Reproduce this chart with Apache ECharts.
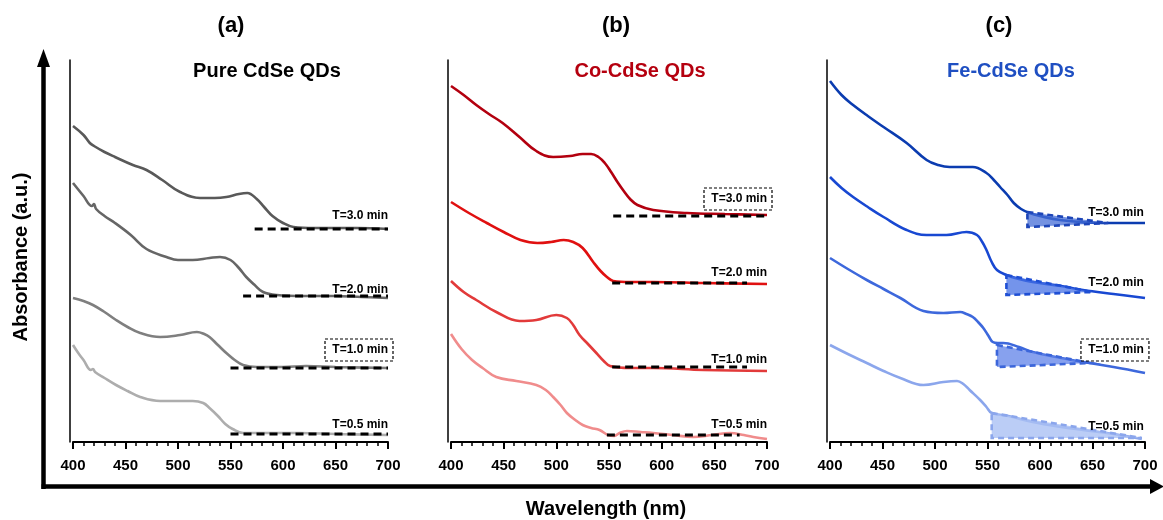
<!DOCTYPE html>
<html>
<head>
<meta charset="utf-8">
<script src="https://cdn.jsdelivr.net/npm/echarts@6/dist/echarts.min.js"></script>
<style>
html,body{margin:0;padding:0;background:#fff;}
#chart{width:1163px;height:520px;}
</style>
</head>
<body>
<div id="chart"></div>
<script>
// ---------- data (wavelength in nm, absorbance in a.u., vertically offset) ----------
const xTicks = [400, 450, 500, 550, 600, 650, 700];

// (a) Pure CdSe QDs
const nm_a30 = [400,410,416,420,430,440,457,470,485,502,521,535,546,558,566,575,582,590,600,610,630,648,670,700];
const abs_a30 = [3.16,3.07,2.99,2.96,2.90,2.85,2.77,2.72,2.62,2.50,2.44,2.44,2.45,2.48,2.49,2.43,2.35,2.26,2.19,2.15,2.14,2.14,2.14,2.13];
const nm_a20 = [400,410,418,420,422,430,440,455,470,489,500,514,530,540,550,558,565,573,581,594,620,648,675,700];
const abs_a20 = [2.59,2.46,2.36,2.38,2.33,2.26,2.19,2.07,1.93,1.85,1.82,1.82,1.84,1.85,1.82,1.74,1.65,1.57,1.50,1.47,1.46,1.46,1.45,1.44];
const nm_a10 = [400,410,419,430,441,452,464,483,502,518,525,530,538,546,554,562,575,584,600,622,650,700];
const abs_a10 = [1.44,1.41,1.37,1.30,1.22,1.15,1.09,1.05,1.07,1.10,1.08,1.05,0.97,0.89,0.82,0.77,0.75,0.75,0.75,0.76,0.75,0.74];
const nm_a05 = [400,405,410,417,419,421,430,441,452,464,483,500,514,524,530,538,545,552,562,580,616,650,700];
const abs_a05 = [0.97,0.89,0.82,0.72,0.73,0.70,0.64,0.57,0.51,0.45,0.41,0.41,0.41,0.39,0.34,0.26,0.18,0.13,0.09,0.09,0.09,0.08,0.07];

// (b) Co-CdSe QDs
const nm_b30 = [400,412,424,436,449,465,481,497,513,525,533,540,546,552,558,564,570,577,592,624,660,700];
const abs_b30 = [3.56,3.47,3.37,3.28,3.19,3.05,2.91,2.85,2.86,2.88,2.88,2.85,2.79,2.70,2.60,2.51,2.43,2.37,2.32,2.29,2.28,2.27];
const nm_b20 = [400,417,434,450,466,482,495,507,516,525,535,542,548,554,570,592,640,700];
const abs_b20 = [2.40,2.29,2.19,2.10,2.02,1.99,2.00,2.02,2.00,1.94,1.80,1.71,1.65,1.61,1.60,1.60,1.59,1.58];
const nm_b10 = [400,412,424,443,465,481,500,510,516,522,530,538,545,551,570,592,640,700];
const abs_b10 = [1.61,1.50,1.42,1.30,1.21,1.22,1.27,1.24,1.17,1.07,0.98,0.89,0.81,0.76,0.74,0.74,0.72,0.71];
const nm_b05 = [400,410,420,430,443,462,481,490,497,504,510,518,525,533,541,549,555,560,567,580,592,610,630,648,665,678,687,700];
const abs_b05 = [1.08,0.93,0.82,0.74,0.65,0.61,0.57,0.52,0.45,0.37,0.29,0.22,0.17,0.14,0.12,0.07,0.06,0.09,0.11,0.10,0.09,0.07,0.05,0.07,0.09,0.07,0.05,0.03];

// (c) Fe-CdSe QDs
const nm_c30 = [400,411,422,436,451,473,492,503,514,536,549,556,562,569,575,582,590,600,619,657,700];
const abs_c30 = [3.61,3.47,3.37,3.26,3.15,2.99,2.82,2.77,2.75,2.75,2.69,2.62,2.55,2.47,2.39,2.33,2.29,2.26,2.22,2.19,2.19];
const nm_c20 = [400,411,422,436,451,473,492,511,530,540,545,549,554,559,568,580,593,620,641,670,700];
const abs_c20 = [2.65,2.54,2.45,2.35,2.25,2.12,2.07,2.07,2.10,2.07,2.00,1.92,1.80,1.72,1.67,1.63,1.60,1.56,1.52,1.48,1.44];
const nm_c10 = [400,417,435,451,467,489,508,524,530,536,541,546,551,555,560,565,580,593,620,641,670,700];
const abs_c10 = [1.84,1.73,1.62,1.53,1.44,1.31,1.29,1.30,1.28,1.25,1.20,1.14,1.06,1.00,0.99,0.99,0.95,0.90,0.84,0.80,0.75,0.69];
const nm_c05 = [400,417,435,451,467,489,508,521,527,533,543,549,554,570,593,620,641,670,697];
const abs_c05 = [0.97,0.88,0.79,0.71,0.64,0.57,0.60,0.61,0.58,0.52,0.42,0.35,0.29,0.26,0.20,0.15,0.12,0.08,0.03];

// dashed baselines: [start nm, end nm, level]
const base_a = [[573,700,2.13],[562,700,1.46],[550,700,0.74],[550,700,0.08]];
const base_b = [[554,700,2.26],[553,681,1.59],[553,681,0.75],[548,674,0.07]];

// shaded triangles in (c): three vertices [nm, abs]
const tri_c30 = [[588,2.30],[665,2.19],[588,2.15]];
const tri_c20 = [[568,1.67],[650,1.50],[568,1.47]];
const tri_c10 = [[559,0.97],[648,0.79],[559,0.75]];
const tri_c05 = [[554,0.29],[697,0.04],[554,0.04]];

// time labels
const timeLabels = ['T=3.0 min','T=2.0 min','T=1.0 min','T=0.5 min'];
const labelY_a = [2.26,1.52,0.92,0.17];
const labelY_b = [2.43,1.69,0.82,0.17];
const labelY_c = [2.29,1.59,0.92,0.15];
const boxed_a = 2, boxed_b = 0, boxed_c = 2;

const panelTags = ['(a)','(b)','(c)'];
const panelNames = ['Pure CdSe QDs','Co-CdSe QDs','Fe-CdSe QDs'];

// ---------- styling / layout ----------
const FONT = "'Liberation Sans', Arial, sans-serif";
const grids = [
  {left:73, right:775, top:60, bottom:78},
  {left:451, right:396, top:60, bottom:78},
  {left:830, right:18, top:60, bottom:78}
];
const panels = [
  {curves:[[nm_a30,abs_a30,'#595959'],[nm_a20,abs_a20,'#666666'],[nm_a10,abs_a10,'#7f7f7f'],[nm_a05,abs_a05,'#adadad']],
   base: base_a, labelY: labelY_a, boxed: boxed_a, labelX: 700, tris: []},
  {curves:[[nm_b30,abs_b30,'#b3000f'],[nm_b20,abs_b20,'#e01010'],[nm_b10,abs_b10,'#e23a3a'],[nm_b05,abs_b05,'#f08c8c']],
   base: base_b, labelY: labelY_b, boxed: boxed_b, labelX: 700, tris: []},
  {curves:[[nm_c30,abs_c30,'#0b3cb0'],[nm_c20,abs_c20,'#1848d2'],[nm_c10,abs_c10,'#3d68dc'],[nm_c05,abs_c05,'#8ba6ec']],
   base: [], labelY: labelY_c, boxed: boxed_c, labelX: 699,
   tris: [[tri_c30,'rgba(70,110,215,0.75)','#1d45b8'],[tri_c20,'rgba(70,112,228,0.75)','#1f4fd4'],
          [tri_c10,'rgba(95,130,232,0.75)','#3c66da'],[tri_c05,'rgba(170,192,244,0.8)','#8ba6ec']]}
];
const titleColors = ['#000000','#b5000f','#1f4fc2'];

const xAxes = [], yAxes = [], series = [];
panels.forEach((p, gi) => {
  xAxes.push({
    type:'value', gridIndex:gi, min:400, max:700, interval:50,
    axisLine:{show:true, lineStyle:{color:'#000', width:2}},
    axisTick:{show:true, length:7, lineStyle:{color:'#000', width:2}},
    minorTick:{show:true, splitNumber:5, length:4, lineStyle:{color:'#000', width:1.5}},
    splitLine:{show:false},
    axisLabel:{color:'#000', fontFamily:FONT, fontWeight:'bold', fontSize:15, margin:16,
      customValues: xTicks}
  });
  yAxes.push({
    type:'value', gridIndex:gi, min:0, max:3.82, offset:3,
    axisLine:{show:true, onZero:false, lineStyle:{color:'#000', width:1.5}},
    axisTick:{show:false}, axisLabel:{show:false}, splitLine:{show:false}
  });
  p.curves.forEach(c => {
    series.push({
      type:'line', xAxisIndex:gi, yAxisIndex:gi, smooth:0.4, symbol:'none',
      data: c[0].map((x,i)=>[x, c[1][i]]),
      lineStyle:{color:c[2], width:2.6}, z:2, silent:true
    });
  });
  p.tris.forEach(t => {
    series.push({
      type:'custom', xAxisIndex:gi, yAxisIndex:gi, z:3, silent:true,
      data:[[t[0][0][0],t[0][0][1],t[0][1][0],t[0][1][1],t[0][2][0],t[0][2][1]]],
      renderItem:(params, api) => {
        const pts = [0,2,4].map(k => api.coord([api.value(k), api.value(k+1)]));
        return {type:'polygon', shape:{points:pts},
          style:{fill:t[1], stroke:t[2], lineWidth:2.6, lineDash:[6,4]}};
      }
    });
  });
  p.base.forEach(b => {
    series.push({
      type:'line', xAxisIndex:gi, yAxisIndex:gi, symbol:'none', z:4, silent:true,
      data:[[b[0],b[2]],[b[1],b[2]]],
      lineStyle:{color:'#000', width:3.2, type:[8,5]}
    });
  });
  series.push({
    type:'custom', xAxisIndex:gi, yAxisIndex:gi, z:5, silent:true,
    data: p.labelY.map((y,i)=>[p.labelX, y, i]),
    renderItem:(params, api) => {
      const pt = api.coord([api.value(0), api.value(1)]);
      const idx = api.value(2);
      const children = [{type:'text', style:{text:timeLabels[idx], x:pt[0], y:pt[1],
        align:'right', verticalAlign:'middle', fill:'#000', font:'bold 12px ' + FONT}}];
      if (idx === p.boxed) {
        children.push({type:'rect', shape:{x:pt[0]-63, y:pt[1]-11, width:68, height:22},
          style:{fill:'none', stroke:'#000', lineWidth:1.2, lineDash:[3,2]}});
      }
      return {type:'group', children};
    }
  });
});

const graphics = [
  // big axis arrows
  {type:'line', shape:{x1:43.5, y1:489, x2:43.5, y2:64}, style:{stroke:'#000', lineWidth:4.5}},
  {type:'polygon', shape:{points:[[37,67],[50,67],[43.5,49]]}, style:{fill:'#000'}},
  {type:'line', shape:{x1:41.5, y1:486.5, x2:1152, y2:486.5}, style:{stroke:'#000', lineWidth:4.5}},
  {type:'polygon', shape:{points:[[1150,479],[1150,494],[1164,486.5]]}, style:{fill:'#000'}},
  {type:'text', x:21, y:257, rotation:Math.PI/2,
   style:{text:'Absorbance (a.u.)', align:'center', verticalAlign:'middle', fill:'#000', font:'bold 20px ' + FONT}},
  {type:'text', x:606, y:509,
   style:{text:'Wavelength (nm)', align:'center', verticalAlign:'middle', fill:'#000', font:'bold 20px ' + FONT}}
];
const tagX = [231, 616, 999], nameX = [267, 640, 1011];
panelTags.forEach((t,i) => graphics.push({type:'text', x:tagX[i], y:26,
  style:{text:t, align:'center', verticalAlign:'middle', fill:'#000', font:'bold 22px ' + FONT}}));
panelNames.forEach((t,i) => graphics.push({type:'text', x:nameX[i], y:71,
  style:{text:t, align:'center', verticalAlign:'middle', fill:titleColors[i], font:'bold 20px ' + FONT}}));

const chart = echarts.init(document.getElementById('chart'), null, {renderer:'canvas'});
chart.setOption({
  animation:false,
  backgroundColor:'#ffffff',
  grid: grids,
  xAxis: xAxes,
  yAxis: yAxes,
  series: series,
  graphic: graphics
});
</script>
</body>
</html>
